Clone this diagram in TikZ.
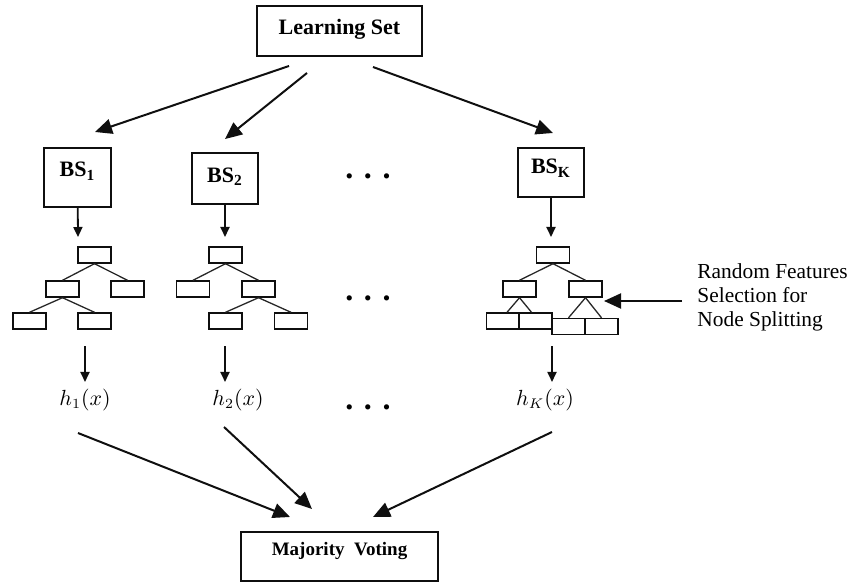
\documentclass[tikz,border=0pt]{standalone}
\usepackage{fontspec}
\setmainfont{Liberation Serif}
\usetikzlibrary{arrows.meta}
\definecolor{ink}{RGB}{15,15,15}
\newcommand{\treebox}[3]{%
  \node[leafbox] (#1) at (#2,#3) {};%
}
\newcommand{\gapdots}[3]{%
  \node[font=\fontsize{16}{18}\selectfont\bfseries,anchor=base,inner sep=0pt] (#1) at (#2,#3) {.\,\,.\,\,.};%
}

\begin{document}
\begin{tikzpicture}[x=0.5pt,y=-0.5pt,
  setbox/.style={draw=ink,line width=1pt,inner sep=0pt,text height=8pt,
    font=\fontsize{11}{13}\selectfont\bfseries},
  leafbox/.style={draw=ink,line width=0.7pt,minimum width=16.5pt,minimum height=8pt,inner sep=0pt},
  branch/.style={ink!90,line width=0.65pt},
  bigarrow/.style={ink,line width=1pt,-{Triangle[length=8.5pt,width=7.5pt]}},
  smallarrow/.style={ink,line width=0.9pt,-{Triangle[length=5pt,width=4.5pt]}}]
  \useasboundingbox (0,0) rectangle (850,582);

  % boxes
  \node[setbox,minimum width=82.5pt,minimum height=25pt,text depth=4.7pt] (learn) at (339.5,31) {Learning Set\hspace{7pt}};
  \node[setbox,minimum width=33.5pt,minimum height=29.5pt,text depth=8.7pt] (bs1) at (77.5,177.5) {BS\textsubscript{1}};
  \node[setbox,minimum width=33pt,minimum height=25.5pt,text depth=4.2pt] (bs2) at (225,178.5) {BS\textsubscript{2}};
  \node[setbox,minimum width=33pt,minimum height=24.5pt,text depth=6.7pt] (bsk) at (551,172.5) {BS\textsubscript{K}};
  \node[setbox,minimum width=98.5pt,minimum height=24.5pt,text depth=8.2pt,
    font=\fontsize{9.5}{12}\selectfont\bfseries] (vote) at (339.5,556) {Majority\ \ Voting\hspace{5pt}};

  % trees
  \treebox{t1a}{94.5}{255}
  \treebox{t1b}{62.5}{289}
  \treebox{t1c}{127.5}{289}
  \treebox{t1d}{29.5}{321}
  \treebox{t1e}{94.5}{321}
  \treebox{t2a}{225.5}{255}
  \treebox{t2b}{193}{289}
  \treebox{t2c}{258.5}{289}
  \treebox{t2d}{225.5}{321}
  \treebox{t2e}{291}{321}
  \treebox{tka}{553}{255}
  \treebox{tkb}{519.5}{289}
  \treebox{tkc}{585.5}{289}
  \treebox{tkd}{503}{321}
  \treebox{tke}{535.5}{321}
  \treebox{tkf}{568.5}{326.5}
  \treebox{tkg}{601.5}{326.5}
  \foreach \p/\c in {t1a/t1b,t1a/t1c,t1b/t1d,t1b/t1e,
                     t2a/t2b,t2a/t2c,t2c/t2d,t2c/t2e,
                     tka/tkb,tka/tkc,tkc/tkf,tkc/tkg}
    \draw[branch] (\p.south) -- (\c.north);
  \draw[branch] (tkb.south) -- ([xshift=2pt]tkd.north);
  \draw[branch] (tkb.south) -- ([xshift=-2pt]tke.north);

  % outputs
  \node[font=\fontsize{10.5}{12}\selectfont] (h1) at (85,400) {$h_1(x)$};
  \node[font=\fontsize{10.5}{12}\selectfont] (h2) at (238,400) {$h_2(x)$};
  \node[font=\fontsize{10.5}{12}\selectfont] (hk) at (545,400) {$h_K(x)$};

  \gapdots{dots1}{368}{179}
  \gapdots{dots2}{368}{300}
  \gapdots{dots3}{368}{409}

  \node[font=\fontsize{10.7}{12}\selectfont,align=left,anchor=west,inner xsep=7.5pt,inner ysep=0pt]
    (note) at (682,297) {Random Features\\Selection for\\Node Splitting};

  % connectors
  \coordinate (ls1) at (289,66);
  \coordinate (ls2) at (307,73);
  \coordinate (ls3) at (373,67);
  \coordinate (to1) at (95,132);
  \coordinate (to2) at (225,139);
  \coordinate (tok) at (553,133);
  \draw[bigarrow] (ls1) -- (to1);
  \draw[bigarrow] (ls2) -- (to2);
  \draw[bigarrow] (ls3) -- (tok);

  \coordinate (d1) at (78,237);
  \coordinate (d2) at (225,237);
  \coordinate (dk) at (551,237);
  \draw[smallarrow] (bs1) -- (d1);
  \draw[smallarrow] (bs2) -- (d2);
  \draw[smallarrow] (bsk) -- (dk);

  \coordinate (u1) at (85,346);
  \coordinate (u2) at (225,346);
  \coordinate (uk) at (552,346);
  \draw[smallarrow] (u1) -- (u1 |- h1.north);
  \draw[smallarrow] (u2) -- (u2 |- h2.north);
  \draw[smallarrow] (uk) -- (uk |- hk.north);

  \coordinate (split) at (604,301);
  \draw[bigarrow] (note.west |- split) -- (split);

  \coordinate (v1) at (78,433);
  \coordinate (v2) at (224,427);
  \coordinate (vk) at (552,432);
  \coordinate (w1) at (290,517);
  \coordinate (w2) at (312,509);
  \coordinate (wk) at (373,517);
  \draw[bigarrow] (v1) -- (w1);
  \draw[bigarrow] (v2) -- (w2);
  \draw[bigarrow] (vk) -- (wk);
\end{tikzpicture}
\end{document}
